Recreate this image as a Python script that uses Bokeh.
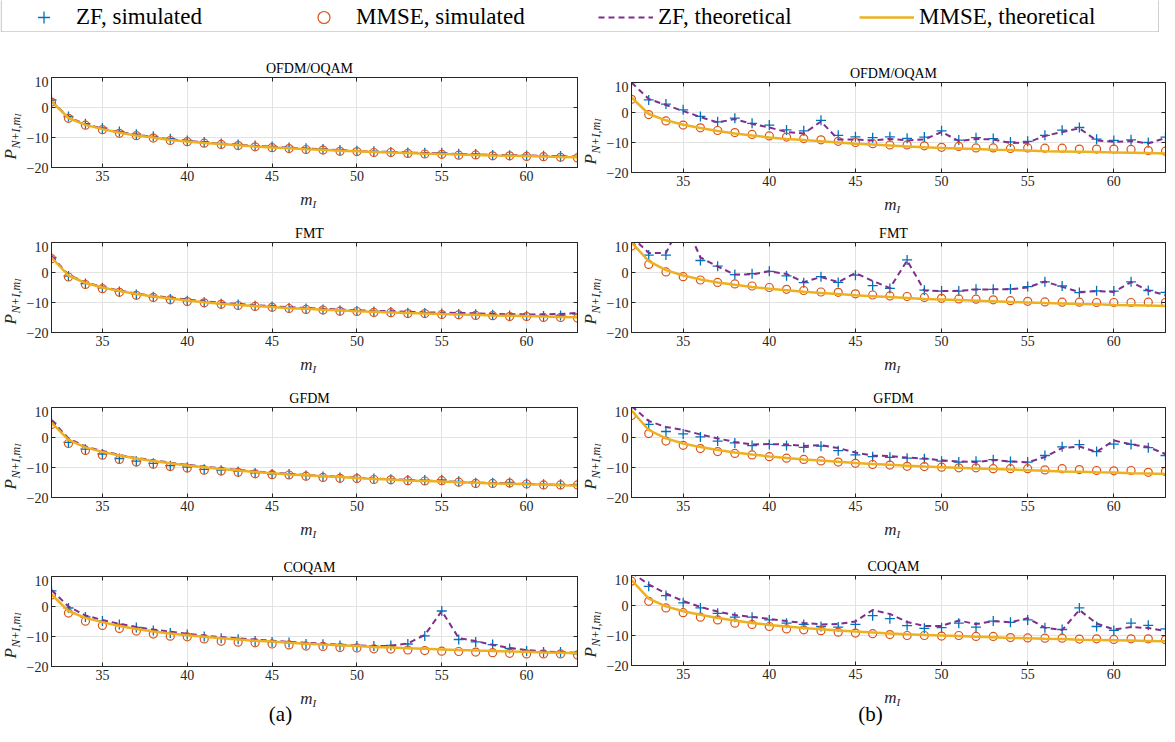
import numpy as np
from bokeh.plotting import figure
from bokeh.layouts import column, row
from bokeh.models import (Range1d, FixedTicker, LinearAxis, Label, Legend,
                          LegendItem, ColumnDataSource, BoxAnnotation)
from bokeh.embed import file_html
from bokeh.resources import INLINE

# ---------------- data ----------------
m_I = list(range(32, 64))
x_ticks = [35, 40, 45, 50, 55, 60]
y_ticks = [-20, -10, 0, 10]
panel_titles = ["OFDM/OQAM", "FMT", "GFDM", "COQAM"]
legend_labels = ["ZF, simulated", "MMSE, simulated", "ZF, theoretical", "MMSE, theoretical"]
sub_labels = ["(a)", "(b)"]

# ---- (a) ----
a_ofdm_zf_sim = [2.5, -3.0, -5.4, -6.8, -8.0, -8.9, -9.6, -10.4,
                 -11.0, -11.5, -12.0, -12.3, -12.7, -13.0, -13.3, -13.6,
                 -13.8, -14.2, -14.4, -14.6, -14.8, -15.0, -15.1, -15.1,
                 -15.4, -15.5, -15.8, -15.9, -16.0, -16.1, -16.2, -16.4]
a_ofdm_mmse_sim = [1.8, -3.6, -5.9, -7.4, -8.6, -9.4, -10.2, -11.0,
                   -11.4, -11.9, -12.3, -12.7, -13.1, -13.4, -13.7, -14.0,
                   -14.2, -14.6, -14.7, -15.0, -15.0, -15.3, -15.5, -15.6,
                   -15.9, -15.8, -16.1, -16.1, -16.3, -16.4, -16.6, -16.8]
a_ofdm_zf_th = [2.2, -3.3, -5.6, -7.0, -8.2, -9.1, -9.8, -10.6,
                -11.1, -11.6, -12.1, -12.4, -12.8, -13.1, -13.4, -13.7,
                -13.9, -14.2, -14.5, -14.7, -14.8, -15.0, -15.2, -15.3,
                -15.5, -15.6, -15.8, -15.9, -16.0, -16.1, -16.3, -16.4]
a_ofdm_mmse_th = [2.0, -3.5, -5.8, -7.2, -8.4, -9.3, -10.0, -10.8,
                  -11.3, -11.8, -12.2, -12.6, -13.0, -13.3, -13.6, -13.9,
                  -14.1, -14.4, -14.6, -14.8, -15.0, -15.2, -15.4, -15.5,
                  -15.7, -15.8, -16.0, -16.1, -16.2, -16.3, -16.5, -16.6]

a_fmt_zf_sim = [5.0, -1.2, -3.7, -5.1, -6.3, -7.3, -8.1, -8.8,
                -9.4, -9.9, -10.4, -10.7, -11.1, -11.3, -11.8, -12.0,
                -12.3, -12.7, -12.8, -13.0, -13.2, -13.4, -13.5, -13.7,
                -13.8, -13.9, -14.1, -14.3, -14.4, -14.5, -14.3, -13.9]
a_fmt_mmse_sim = [4.6, -1.5, -4.0, -5.4, -6.6, -7.6, -8.3, -9.1,
                  -9.7, -10.1, -10.6, -11.0, -11.3, -11.6, -12.0, -12.3,
                  -12.5, -12.9, -13.0, -13.3, -13.4, -13.7, -13.7, -14.0,
                  -14.1, -14.3, -14.4, -14.7, -14.7, -15.0, -15.0, -15.2]
a_fmt_zf_th = [5.5, -0.8, -3.3, -4.8, -6.0, -7.0, -7.8, -8.4,
               -9.0, -9.6, -10.1, -10.5, -10.9, -11.2, -11.6, -11.8,
               -12.1, -12.3, -12.6, -12.8, -12.9, -13.1, -13.3, -13.4,
               -13.5, -13.6, -13.8, -13.9, -14.0, -14.0, -13.8, -13.5]
a_fmt_mmse_th = [5.0, -1.0, -3.5, -5.0, -6.2, -7.2, -8.0, -8.7,
                 -9.3, -9.9, -10.4, -10.8, -11.2, -11.5, -11.9, -12.1,
                 -12.4, -12.6, -12.9, -13.1, -13.3, -13.5, -13.7, -13.8,
                 -14.0, -14.1, -14.3, -14.4, -14.5, -14.7, -14.8, -14.9]

a_gfdm_zf_sim = [4.8, -1.6, -3.9, -5.5, -7.0, -7.9, -8.6, -9.4,
                 -9.9, -10.6, -10.9, -11.3, -11.8, -12.2, -12.2, -12.7,
                 -13.0, -13.3, -13.5, -13.7, -13.9, -14.2, -14.2, -14.1,
                 -14.6, -15.1, -15.1, -15.0, -15.3, -15.6, -15.6, -15.6]
a_gfdm_mmse_sim = [4.3, -2.0, -4.3, -5.9, -7.3, -8.2, -8.9, -9.7,
                   -10.2, -10.9, -11.2, -11.6, -12.1, -12.4, -12.5, -12.9,
                   -13.3, -13.6, -13.7, -14.0, -14.1, -14.4, -14.5, -14.4,
                   -14.9, -15.3, -15.3, -15.2, -15.5, -15.8, -15.8, -15.8]
a_gfdm_zf_th = [5.8, -0.3, -3.0, -4.5, -5.8, -6.8, -7.6, -8.4,
                -9.1, -9.7, -10.3, -10.8, -11.3, -11.7, -12.1, -12.5,
                -12.8, -13.1, -13.4, -13.7, -13.9, -14.1, -14.4, -14.6,
                -14.8, -15.0, -15.2, -15.3, -15.5, -15.6, -15.8, -15.9]
a_gfdm_mmse_th = [5.0, -0.8, -3.3, -4.8, -6.0, -7.0, -7.8, -8.6,
                  -9.3, -9.9, -10.5, -11.0, -11.5, -11.9, -12.3, -12.6,
                  -12.9, -13.2, -13.5, -13.8, -14.0, -14.3, -14.5, -14.7,
                  -14.9, -15.1, -15.3, -15.4, -15.6, -15.7, -15.9, -16.0]

a_coqam_zf_sim = [5.2, -0.5, -3.5, -4.8, -6.0, -7.0, -8.0, -8.8,
                  -9.3, -10.0, -10.6, -10.9, -11.5, -11.8, -12.0, -12.5,
                  -12.6, -13.0, -13.2, -13.2, -13.0, -12.5, -9.8, -1.5,
                  -11.0, -11.8, -12.7, -14.0, -14.8, -15.2, -15.2, -15.8]
a_coqam_mmse_sim = [3.8, -2.2, -4.9, -6.3, -7.3, -8.2, -9.2, -9.9,
                    -10.1, -10.8, -11.6, -11.9, -12.1, -12.5, -12.8, -13.2,
                    -13.3, -13.7, -13.8, -14.1, -14.2, -14.5, -14.7, -14.9,
                    -15.0, -15.2, -15.4, -15.6, -15.8, -15.8, -15.8, -16.2]
a_coqam_zf_th = [5.5, 0.0, -3.0, -4.5, -5.8, -6.8, -7.7, -8.4,
                 -9.1, -9.7, -10.2, -10.6, -11.0, -11.4, -11.8, -12.1,
                 -12.4, -12.7, -13.0, -13.2, -13.1, -12.3, -9.5, -1.5,
                 -10.5, -11.5, -12.8, -13.8, -14.5, -15.0, -15.2, -15.4]
a_coqam_mmse_th = [4.0, -1.5, -3.8, -5.2, -6.5, -7.5, -8.3, -9.0,
                   -9.6, -10.1, -10.6, -11.0, -11.4, -11.7, -12.1, -12.4,
                   -12.7, -12.9, -13.2, -13.5, -13.7, -13.9, -14.1, -14.3,
                   -14.5, -14.7, -14.8, -15.0, -15.1, -15.3, -15.4, -15.6]

# ---- (b) ----
b_ofdm_zf_sim = [10.0, 4.2, 2.8, 0.9, -1.3, -3.1, -1.9, -3.6,
                 -4.2, -5.8, -6.1, -2.6, -7.6, -8.1, -8.4, -8.1,
                 -8.6, -8.2, -6.1, -9.2, -8.4, -8.7, -9.8, -9.6,
                 -7.6, -5.9, -5.0, -8.9, -9.3, -9.1, -10.0, -8.2]
b_ofdm_mmse_sim = [4.4, -0.7, -2.8, -4.2, -5.1, -6.0, -6.7, -7.3,
                   -7.8, -8.2, -8.7, -9.1, -9.6, -10.0, -10.4, -10.8,
                   -10.8, -11.1, -11.6, -11.3, -11.8, -11.8, -12.0, -11.8,
                   -11.9, -11.9, -12.2, -12.2, -12.2, -12.3, -12.7, -12.9]
b_ofdm_zf_th = [10.0, 4.5, 2.5, 0.5, -1.5, -3.3, -2.2, -3.8,
                -5.0, -6.5, -7.0, -3.0, -9.0, -9.0, -9.3, -8.8,
                -9.3, -9.0, -6.5, -9.5, -8.8, -9.0, -10.2, -10.0,
                -7.8, -6.5, -5.3, -9.3, -9.8, -9.5, -10.3, -8.5]
b_ofdm_mmse_th = [5.0, -0.5, -2.6, -4.1, -5.2, -6.2, -7.0, -7.7,
                  -8.3, -8.8, -9.2, -9.6, -10.0, -10.4, -10.7, -11.0,
                  -11.3, -11.6, -11.8, -12.0, -12.2, -12.4, -12.5, -12.7,
                  -12.9, -13.0, -13.1, -13.2, -13.3, -13.4, -13.5, -13.7]

b_fmt_zf_sim = [11.5, 5.8, 5.8, 17.5, 4.0, 2.1, -0.7, -0.4,
                0.4, -1.1, -3.4, -1.4, -3.3, -0.9, -4.4, -5.3,
                4.2, -5.9, -6.2, -6.2, -5.6, -5.6, -5.5, -4.7,
                -3.1, -4.5, -6.7, -6.1, -6.2, -3.1, -6.0, -6.6]
b_fmt_mmse_sim = [8.8, 2.7, 0.2, -1.4, -2.5, -3.3, -3.8, -4.5,
                  -5.0, -5.6, -6.0, -6.5, -6.6, -7.1, -7.5, -7.8,
                  -8.0, -8.3, -8.6, -8.8, -8.9, -9.1, -9.4, -9.6,
                  -9.8, -9.9, -9.9, -10.0, -10.0, -10.0, -9.9, -10.0]
b_fmt_zf_th = [12.0, 6.5, 6.5, 18.0, 5.0, 2.0, -0.7, -0.6,
               0.4, -0.5, -3.2, -1.5, -3.2, -0.2, -2.8, -5.2,
               4.0, -6.0, -6.2, -6.1, -5.7, -5.6, -5.6, -5.0,
               -3.0, -4.8, -6.5, -6.2, -6.5, -3.2, -6.0, -7.5]
b_fmt_mmse_th = [10.0, 3.8, 0.8, -1.0, -2.3, -3.3, -4.1, -4.8,
                 -5.4, -5.9, -6.4, -6.8, -7.2, -7.6, -7.9, -8.2,
                 -8.5, -8.8, -9.0, -9.2, -9.4, -9.6, -9.8, -10.0,
                 -10.2, -10.3, -10.5, -10.6, -10.8, -10.9, -11.0, -11.2]

b_gfdm_zf_sim = [10.0, 4.4, 2.0, 1.2, 0.2, -1.2, -1.8, -2.7,
                 -2.3, -2.7, -3.3, -2.9, -4.4, -5.8, -6.4, -6.6,
                 -6.9, -7.1, -7.9, -8.2, -7.9, -7.4, -8.0, -8.2,
                 -6.0, -3.1, -2.4, -4.7, -2.2, -2.3, -3.4, -6.0]
b_gfdm_mmse_sim = [7.3, 1.3, -1.2, -2.6, -3.7, -4.7, -5.3, -5.8,
                   -6.4, -6.9, -7.3, -7.8, -8.2, -8.6, -9.0, -9.2,
                   -9.6, -9.7, -9.9, -10.1, -10.1, -10.4, -10.4, -10.4,
                   -10.8, -10.4, -10.7, -11.0, -11.1, -11.0, -11.6, -11.3]
b_gfdm_zf_th = [10.5, 5.5, 3.5, 2.5, 1.0, -0.3, -1.5, -2.3,
                -2.2, -2.3, -2.8, -2.6, -3.5, -5.0, -6.0, -6.2,
                -6.7, -7.0, -7.6, -8.0, -8.2, -7.5, -8.0, -8.3,
                -6.5, -3.5, -3.0, -4.8, -1.0, -2.3, -3.2, -5.5]
b_gfdm_mmse_th = [9.0, 2.5, -0.3, -2.0, -3.2, -4.2, -5.0, -5.7,
                  -6.3, -6.8, -7.3, -7.7, -8.1, -8.5, -8.8, -9.1,
                  -9.4, -9.7, -9.9, -10.1, -10.3, -10.5, -10.7, -10.9,
                  -11.1, -11.3, -11.4, -11.6, -11.7, -11.9, -12.0, -12.2]

b_coqam_zf_sim = [11.5, 6.4, 3.3, 0.9, -0.8, -2.6, -3.9, -3.9,
                  -4.8, -5.9, -6.3, -7.0, -7.2, -6.3, -3.4, -4.4,
                  -6.7, -7.6, -7.4, -5.9, -7.2, -5.2, -5.6, -4.8,
                  -7.4, -8.0, -0.8, -7.0, -8.3, -5.9, -6.6, -7.8]
b_coqam_mmse_sim = [8.1, 1.4, -0.8, -2.4, -3.9, -4.8, -5.9, -6.3,
                    -7.0, -7.8, -8.1, -8.4, -8.9, -9.2, -9.4, -9.7,
                    -10.0, -10.0, -10.2, -10.0, -10.3, -10.3, -10.7, -10.8,
                    -10.9, -10.9, -11.2, -11.1, -11.3, -11.1, -11.1, -11.4]
b_coqam_zf_th = [11.0, 7.0, 4.0, 1.5, -0.5, -2.0, -3.2, -3.8,
                 -4.5, -5.2, -5.8, -6.3, -6.2, -5.3, -1.5, -2.8,
                 -5.5, -6.8, -6.8, -5.0, -6.2, -5.2, -5.6, -4.2,
                 -7.4, -8.2, -1.5, -6.0, -8.0, -7.2, -7.5, -8.5]
b_coqam_mmse_th = [8.5, 2.3, -0.3, -1.9, -3.1, -4.2, -5.0, -5.8,
                   -6.5, -7.0, -7.5, -7.9, -8.3, -8.7, -9.0, -9.3,
                   -9.6, -9.8, -10.0, -10.2, -10.4, -10.6, -10.8, -10.9,
                   -11.1, -11.2, -11.4, -11.5, -11.6, -11.7, -11.8, -11.9]

col_a = [
    (a_ofdm_zf_sim, a_ofdm_mmse_sim, a_ofdm_zf_th, a_ofdm_mmse_th),
    (a_fmt_zf_sim, a_fmt_mmse_sim, a_fmt_zf_th, a_fmt_mmse_th),
    (a_gfdm_zf_sim, a_gfdm_mmse_sim, a_gfdm_zf_th, a_gfdm_mmse_th),
    (a_coqam_zf_sim, a_coqam_mmse_sim, a_coqam_zf_th, a_coqam_mmse_th),
]
col_b = [
    (b_ofdm_zf_sim, b_ofdm_mmse_sim, b_ofdm_zf_th, b_ofdm_mmse_th),
    (b_fmt_zf_sim, b_fmt_mmse_sim, b_fmt_zf_th, b_fmt_mmse_th),
    (b_gfdm_zf_sim, b_gfdm_mmse_sim, b_gfdm_zf_th, b_gfdm_mmse_th),
    (b_coqam_zf_sim, b_coqam_mmse_sim, b_coqam_zf_th, b_coqam_mmse_th),
]

# ---------------- style ----------------
C_ZF_SIM = "#0072BD"
C_MMSE_SIM = "#D95319"
C_ZF_TH = "#7E2F8E"
C_MMSE_TH = "#EDB120"
AX = "#262626"
GRID = "#e3e3e3"
SERIF = "Liberation Serif"

# layout (page pixels)
LEG_TOP, LEG_BOT = 8, 40
PAGE_END = 734
FH = 90          # frame height
PT, PB = 1, 21   # panel figure border top / bottom
YL_B = 23        # panel left border (tick labels)


def style_axis(ax, ticks, show_labels=True):
    ax.ticker = FixedTicker(ticks=ticks)
    ax.axis_line_color = AX
    ax.axis_line_width = 1
    ax.major_tick_line_color = AX
    ax.major_tick_in = 4
    ax.major_tick_out = 0
    ax.minor_tick_in = 0
    ax.minor_tick_out = 0
    ax.major_label_text_font = SERIF
    ax.major_label_text_font_size = "14px"
    ax.major_label_text_color = AX
    ax.major_label_standoff = 3
    if not show_labels:
        ax.major_label_overrides = {t: "" for t in ticks}
        ax.major_label_standoff = 0
        ax.major_label_text_font_size = "0px"


def blank(w, h):
    f = figure(width=w, height=h, x_range=Range1d(0, 1), y_range=Range1d(0, 1),
               output_backend="svg", toolbar_location=None, tools="",
               x_axis_type=None, y_axis_type=None, min_border=0)
    f.grid.visible = False
    f.outline_line_color = None
    return f


def txt(f, x, y, text, size, italic=False, align="center", angle=0.0, color=AX):
    f.add_layout(Label(x=x, y=y, x_units="screen", y_units="screen", text=text,
                       angle=angle, text_align=align, text_baseline="middle",
                       text_font=SERIF, text_font_style="italic" if italic else "normal",
                       text_font_size=f"{size}px", text_color=color))


def make_panel(series, fw, br):
    zf_sim, mmse_sim, zf_th, mmse_th = series
    p = figure(frame_width=fw, frame_height=FH,
               min_border_left=YL_B, min_border_right=br,
               min_border_top=PT, min_border_bottom=PB,
               x_range=Range1d(32, 63), y_range=Range1d(-20, 10),
               output_backend="svg", toolbar_location=None, tools="")
    p.outline_line_color = AX
    p.outline_line_width = 1
    style_axis(p.xaxis[0], x_ticks)
    style_axis(p.yaxis[0], y_ticks)
    top_ax = LinearAxis()
    style_axis(top_ax, x_ticks, show_labels=False)
    p.add_layout(top_ax, "above")
    right_ax = LinearAxis()
    style_axis(right_ax, y_ticks, show_labels=False)
    p.add_layout(right_ax, "right")
    p.xgrid.ticker = FixedTicker(ticks=x_ticks)
    p.ygrid.ticker = FixedTicker(ticks=y_ticks)
    p.grid.grid_line_color = GRID
    p.grid.grid_line_width = 1

    p.scatter(m_I, zf_sim, marker="cross", size=10, line_color=C_ZF_SIM, line_width=1.3)
    p.scatter(m_I, mmse_sim, marker="circle", size=8, fill_color=None,
              line_color=C_MMSE_SIM, line_width=1.2)
    p.line(m_I, zf_th, line_color=C_ZF_TH, line_width=2, line_dash="6 4")
    p.line(m_I, mmse_th, line_color=C_MMSE_TH, line_width=2.5)
    return p


def ylabel_fig(w):
    h = PT + FH + PB
    f = blank(w, h)
    fl = w + YL_B            # frame left in this fig's coordinates
    yc = PB + FH / 2 - 36    # label centre (from bottom)
    y0 = yc - 22
    ang = np.pi / 2
    txt(f, fl - 36, y0, "P", 17, italic=True, align="left", angle=ang)
    txt(f, fl - 31, y0 + 11, "N+I,m", 12, italic=True, align="left", angle=ang)
    txt(f, fl - 28.5, y0 + 43, "I", 9, italic=True, align="left", angle=ang)
    return f


def build_column(series_list, tops, x0, x1, frame_l, frame_r, sub, sub_x):
    width = x1 - x0
    yl_w = frame_l - YL_B - x0
    fw = frame_r - frame_l
    br = x1 - frame_r
    xc = (frame_l + frame_r) / 2 - x0    # frame centre in column coords
    items = []
    prev_bottom = LEG_BOT
    for i in range(4):
        fig_top = tops[i] - PT
        g = fig_top - prev_bottom
        gap = blank(width, g)
        if i > 0:
            txt(gap, xc + 3, g - 11, "m", 17, italic=True, align="right")
            txt(gap, xc + 3, g - 15, "I", 11, italic=True, align="left")
        txt(gap, xc, 8.5, panel_titles[i], 14, color="black")
        items.append(gap)
        items.append(row(ylabel_fig(yl_w), make_panel(series_list[i], fw, br)))
        prev_bottom = tops[i] + FH + PB
    g = PAGE_END - prev_bottom
    gap = blank(width, g)
    txt(gap, xc + 3, g - 11, "m", 17, italic=True, align="right")
    txt(gap, xc + 3, g - 15, "I", 11, italic=True, align="left")
    txt(gap, sub_x - x0, 13, sub, 21, color="black")
    items.append(gap)
    return column(*items)


left = build_column(col_a, [85, 250, 415, 584], 8, 582, 54, 580, sub_labels[0], 288)
right = build_column(col_b, [90, 250, 415, 583], 582, 1167, 629, 1163, sub_labels[1], 873)

# ---------------- legend strip ----------------
lg = figure(width=1159, height=LEG_BOT - LEG_TOP, x_range=Range1d(0, 1), y_range=Range1d(0, 1),
            output_backend="svg", toolbar_location=None, tools="",
            x_axis_type=None, y_axis_type=None, min_border=0)
lg.grid.visible = False
lg.outline_line_color = None
lg.add_layout(BoxAnnotation(left=0.0006, right=0.9994, bottom=0.02, top=5,
                            fill_alpha=0, line_color=AX, line_width=1))
nan_src = ColumnDataSource(dict(x=[float("nan")], y=[float("nan")]))
r1 = lg.scatter("x", "y", source=nan_src, marker="cross", size=10,
                line_color=C_ZF_SIM, line_width=1.3)
r2 = lg.scatter("x", "y", source=nan_src, marker="circle", size=8, fill_color=None,
                line_color=C_MMSE_SIM, line_width=1.2)
r3 = lg.line("x", "y", source=nan_src, line_color=C_ZF_TH, line_width=2, line_dash="6 4")
r4 = lg.line("x", "y", source=nan_src, line_color=C_MMSE_TH, line_width=2.5)
leg_x = [16, 296, 598, 859]
for lab, rend, lx in zip(legend_labels, [r1, r2, r3, r4], leg_x):
    lg.add_layout(Legend(items=[LegendItem(label=lab, renderers=[rend])],
                         orientation="horizontal", location=(lx, 0),
                         glyph_width=55, glyph_height=30, label_height=30,
                         label_standoff=5, spacing=0, padding=0, margin=0,
                         border_line_color=None, background_fill_alpha=0,
                         label_text_font=SERIF, label_text_font_size="23px",
                         label_text_color="black", label_text_baseline="middle"),
                  "center")

layout = column(lg, row(left, right))

open("out.html", "w").write(file_html(layout, INLINE))
